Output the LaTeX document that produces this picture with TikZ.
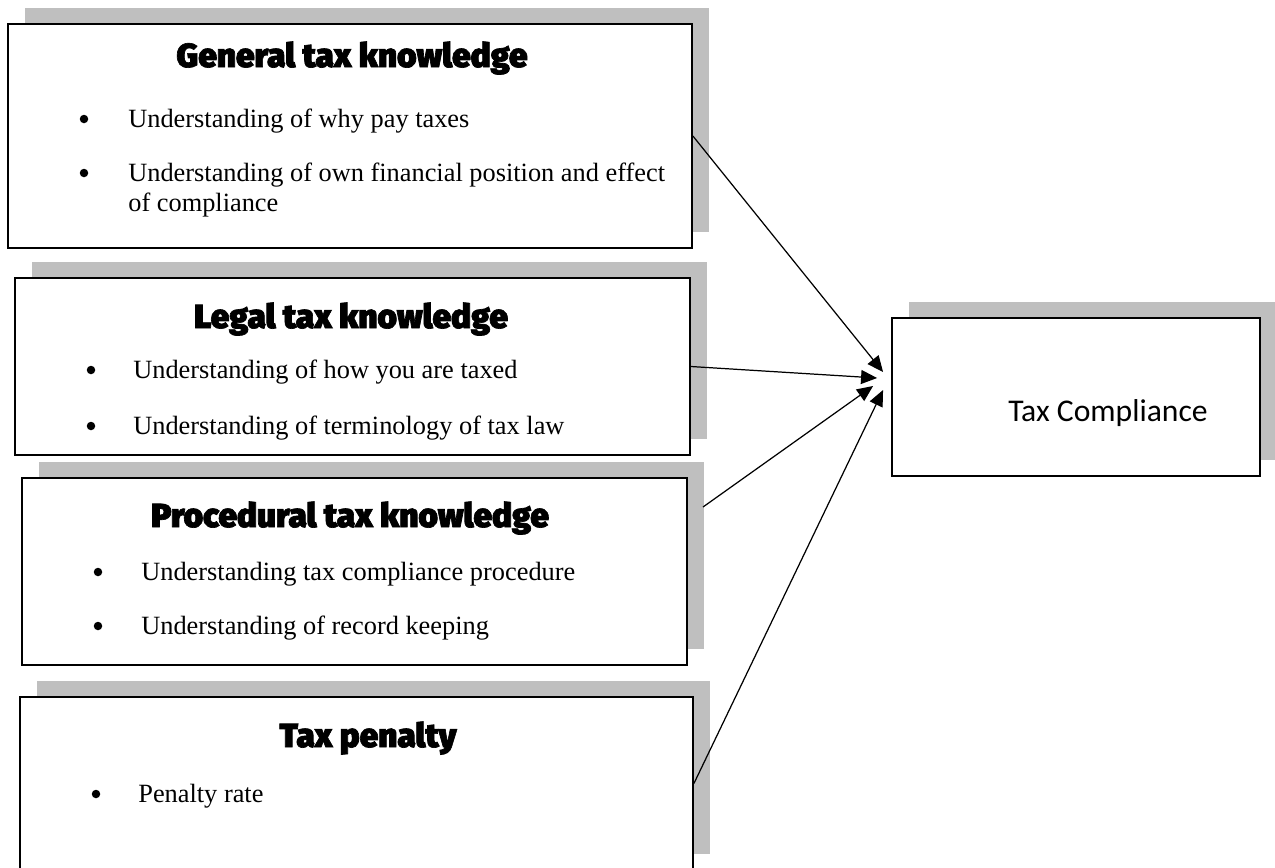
\documentclass[tikz,border=0pt]{standalone}
\usepackage{fontspec}
\setmainfont{Liberation Serif}
\newfontfamily\headfont{Fira Sans Black}[FakeBold=2]
\newfontfamily\calfont{Carlito}
\usetikzlibrary{arrows.meta,shadows,positioning}
\definecolor{shadegray}{RGB}{191,191,191}

\begin{document}
\begin{tikzpicture}[x=0.02cm, y=-0.02cm,
  factor/.style={draw, line width=1.1pt, fill=white, inner sep=0pt,
    general shadow={fill=shadegray, shadow xshift=0.34cm, shadow yshift=0.32cm}},
  head/.style={anchor=base, font=\headfont\fontsize{19}{22}\selectfont, inner sep=0pt},
  item/.style={anchor=base west, font=\fontsize{15}{17}\selectfont, inner sep=0pt, align=left},
  dot/.style={circle, fill, inner sep=0pt, minimum size=0.17cm},
  link/.style={-{Triangle[length=0.32cm, width=0.28cm]}, line width=0.7pt}]
  \useasboundingbox (0,0) rectangle (1275,867);

  \node[factor, minimum width=13.68cm, minimum height=4.48cm] (gen) at (350,136) {};
  \node[factor, minimum width=13.5cm, minimum height=3.54cm] (leg) at (352.5,366.5) {};
  \node[factor, minimum width=13.3cm, minimum height=3.74cm] (proc) at (354.5,571.5) {};
  \node[factor, minimum width=13.46cm, minimum height=3.46cm] (pen) at (356.5,783.5) {};
  \node[factor, minimum width=7.36cm, minimum height=3.16cm] (tc) at (1076,397) {};

  \node[head] (genhead) at (352,67) {General tax knowledge};
  \node[dot] (gen1dot) at (84,119) {};
  \node[item] (gen1) at (128,127) {Understanding of why pay taxes};
  \node[dot] (gen2dot) at (84,173) {};
  \node[item] (gen2) at (128,181) {Understanding of own financial position and effect};
  \node[item] (gen3) at (128,211) {of compliance};

  \node[head] (leghead) at (351,328) {Legal tax knowledge};
  \node[dot] (leg1dot) at (91,370) {};
  \node[item] (leg1) at (133,378) {Understanding of how you are taxed};
  \node[dot] (leg2dot) at (91,426) {};
  \node[item] (leg2) at (133,434) {Understanding of terminology of tax law};

  \node[head] (prochead) at (350,527) {Procedural tax knowledge};
  \node[dot] (proc1dot) at (98,572) {};
  \node[item] (proc1) at (141,580) {Understanding tax compliance procedure};
  \node[dot] (proc2dot) at (98,626) {};
  \node[item] (proc2) at (141,634) {Understanding of record keeping};

  \node[head] (penhead) at (368,747) {Tax penalty};
  \node[dot] (pen1dot) at (96,794) {};
  \node[item] (pen1) at (138,802) {Penalty rate};

  \node[anchor=base, inner sep=0pt, font=\calfont\fontsize{18}{21}\selectfont] (tctext) at (1108,421) {Tax Compliance};

  \coordinate (procout) at (703,507);
  \draw[link] (gen.east) -- ([xshift=-0.16cm, yshift=0.5cm]tc.west);
  \draw[link] (leg.east) -- ([xshift=-0.28cm, yshift=0.38cm]tc.west);
  \draw[link] (procout) -- ([xshift=-0.36cm, yshift=0.22cm]tc.west);
  \draw[link] (pen.east) -- ([xshift=-0.16cm, yshift=0.14cm]tc.west);
\end{tikzpicture}
\end{document}
